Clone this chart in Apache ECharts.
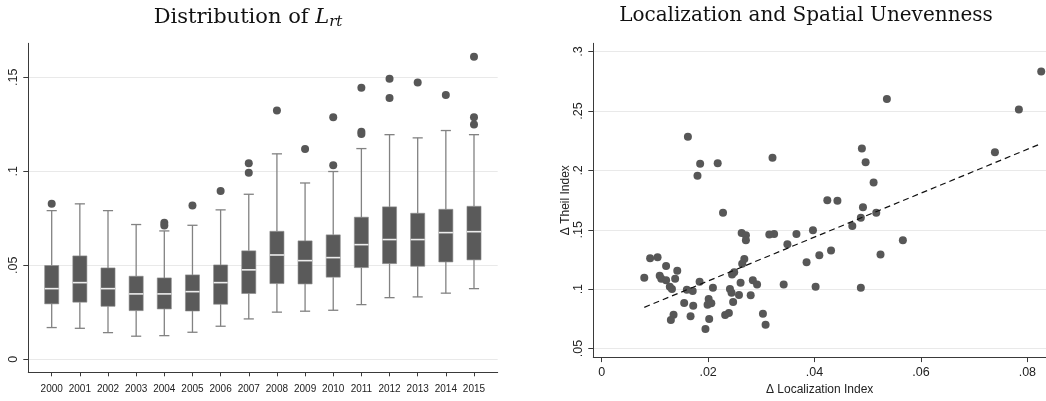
<!DOCTYPE html>
<html lang="en">
<head>
    <meta charset="UTF-8">
    <title>Lrt distribution and localization</title>
    <script type="text/javascript" src="https://cdn.jsdelivr.net/npm/echarts@6/dist/echarts.min.js"></script>
    <style type="text/css">
        html, body { margin: 0; padding: 0; background: #fff; }
        #main { width: 1046px; height: 401px; }
    </style>
</head>
<body>
    <div id="main"></div>
</body>

<script type="text/javascript">
    // left panel: box plots of L_rt by year
    var years = ['2000','2001','2002','2003','2004','2005','2006','2007','2008','2009','2010','2011','2012','2013','2014','2015'];
    var lowWhisker  = [0.0169,0.0165,0.0142,0.0123,0.0126,0.0144,0.0176,0.0215,0.0251,0.0256,0.0261,0.0291,0.0328,0.0332,0.0352,0.0376];
    var q1          = [0.0295,0.0304,0.0282,0.0259,0.0268,0.0257,0.0293,0.0350,0.0403,0.0401,0.0437,0.0488,0.0509,0.0495,0.0518,0.0529];
    var median      = [0.0376,0.0408,0.0376,0.0348,0.0348,0.0360,0.0408,0.0476,0.0555,0.0525,0.0541,0.0610,0.0637,0.0637,0.0674,0.0679];
    var q3          = [0.0499,0.0550,0.0486,0.0442,0.0433,0.0449,0.0502,0.0577,0.0681,0.0630,0.0662,0.0756,0.0811,0.0777,0.0798,0.0814];
    var highWhisker = [0.0791,0.0827,0.0791,0.0717,0.0683,0.0713,0.0795,0.0878,0.1093,0.0938,0.0999,0.1121,0.1195,0.1178,0.1217,0.1195];

    // outside values (year index, value)
    var outlierYear  = [0, 4, 4, 5, 6, 7, 7, 8, 9, 10, 10, 11, 11, 11, 12, 12, 13, 14, 15, 15, 15];
    var outlierValue = [0.0827,0.0727,0.0712,0.0818,0.0896,0.1043,0.0993,0.1323,0.1119,0.1288,0.1032,0.1445,0.1210,0.1198,0.1493,0.1390,0.1472,0.1406,0.1610,0.1288,0.1249];

    var leftTicks = [0, 0.05, 0.1, 0.15];

    // right panel: scatter of changes
    var locChange = [0.0826,0.0784,0.0739,0.0536,0.0162,0.0185,0.0180,0.0218,0.0321,0.0489,0.0496,0.0511,0.0228,0.0424,0.0443,0.0491,0.0516,0.0487,0.0471,0.0566,
                     0.0524,0.0487,0.0431,0.0409,0.0397,0.0385,0.0402,0.0366,0.0349,0.0342,0.0324,0.0315,0.0303,0.0308,0.0263,0.0271,0.0271,0.0268,0.0264,0.0261,
                     0.0284,0.0292,0.0280,0.0249,0.0245,0.0258,0.0241,0.0244,0.0247,0.0239,0.0232,0.0209,0.0201,0.0199,0.0206,0.0202,0.0195,0.0184,0.0160,0.0171,
                     0.0172,0.0155,0.0167,0.0142,0.0138,0.0121,0.0105,0.0091,0.0109,0.0112,0.0121,0.0128,0.0132,0.0080,0.0135,0.0130];
    var theilChange = [0.2832,0.2513,0.2153,0.2601,0.2284,0.2055,0.1955,0.2060,0.2106,0.2184,0.2069,0.1898,0.1644,0.1748,0.1745,0.1689,0.1644,0.1602,0.1532,0.1412,
                       0.1292,0.1012,0.1325,0.1286,0.1496,0.1227,0.1020,0.1465,0.1378,0.1040,0.1465,0.1460,0.0794,0.0701,0.1473,0.1454,0.1412,0.1253,0.1213,0.1054,
                       0.1074,0.1040,0.0948,0.1143,0.1124,0.0950,0.1001,0.0970,0.0892,0.0800,0.0783,0.1012,0.0917,0.0869,0.0881,0.0749,0.0665,0.1062,0.0995,0.0984,
                       0.0861,0.0883,0.0772,0.1154,0.1087,0.1194,0.1269,0.1261,0.1113,0.1087,0.1074,0.1020,0.1001,0.1096,0.0785,0.0741];
    // fitted line end points
    var fitX = [0.0080, 0.0826];
    var fitY = [0.0847, 0.2226];

    var rightXTicks = [0, 0.02, 0.04, 0.06, 0.08];
    var rightYTicks = [0.05, 0.1, 0.15, 0.2, 0.25, 0.3];

    // stata style labels: .05 instead of 0.05
    function stataNum(v) {
        if (Math.abs(v) < 1e-9) return '0';
        return String(+v.toFixed(3)).replace(/^0\./, '.');
    }

    var axisCol = '#3a3a3a';
    var gridCol = '#e9e9e9';
    var dotCol = '#575757';
    var sans = 'Liberation Sans';

    var boxData = years.map(function (y, i) {
        return [i, lowWhisker[i], q1[i], median[i], q3[i], highWhisker[i]];
    });
    var outlierData = outlierYear.map(function (y, i) { return [y, outlierValue[i]]; });
    var scatterData = locChange.map(function (x, i) { return [x, theilChange[i]]; });
    var fitData = fitX.map(function (x, i) { return [x, fitY[i]]; });

    function renderBox(params, api) {
        var x = api.value(0);
        var pLow = api.coord([x, api.value(1)]);
        var pQ1 = api.coord([x, api.value(2)]);
        var pMed = api.coord([x, api.value(3)]);
        var pQ3 = api.coord([x, api.value(4)]);
        var pHigh = api.coord([x, api.value(5)]);
        var boxW = api.size([0.5, 0])[0];
        var capW = api.size([0.36, 0])[0];
        var cx = pMed[0];
        var whisk = { stroke: '#828282', lineWidth: 1.3 };
        return {
            type: 'group',
            children: [
                { type: 'line', shape: { x1: cx, y1: pLow[1], x2: cx, y2: pQ1[1] }, style: whisk },
                { type: 'line', shape: { x1: cx, y1: pQ3[1], x2: cx, y2: pHigh[1] }, style: whisk },
                { type: 'line', shape: { x1: cx - capW / 2, y1: pLow[1], x2: cx + capW / 2, y2: pLow[1] }, style: whisk },
                { type: 'line', shape: { x1: cx - capW / 2, y1: pHigh[1], x2: cx + capW / 2, y2: pHigh[1] }, style: whisk },
                { type: 'rect', shape: { x: cx - boxW / 2, y: pQ3[1], width: boxW, height: pQ1[1] - pQ3[1] },
                  style: { fill: '#5a5a5a', stroke: '#8c8c8c', lineWidth: 0.6 } },
                { type: 'line', shape: { x1: cx - boxW / 2, y1: pMed[1], x2: cx + boxW / 2, y2: pMed[1] },
                  style: { stroke: '#ededed', lineWidth: 1.6 } }
            ]
        };
    }

    var chart = echarts.init(document.getElementById('main'));

    var option = {
        animation: false,
        backgroundColor: '#ffffff',
        title: [
            {
                text: 'Distribution of {i|L}{s|rt}',
                left: 243, top: 1, textAlign: 'center',
                textStyle: {
                    fontFamily: 'DejaVu Serif', fontSize: 21, fontWeight: 'normal', color: '#111',
                    rich: {
                        i: { fontFamily: 'DejaVu Serif', fontSize: 21, fontStyle: 'italic', color: '#111' },
                        s: { fontFamily: 'DejaVu Serif', fontSize: 15, fontStyle: 'italic', color: '#111', padding: [9, 0, 0, 0] }
                    }
                }
            },
            {
                text: 'Localization and Spatial Unevenness',
                left: 801, top: 1, textAlign: 'center',
                textStyle: { fontFamily: 'DejaVu Serif', fontSize: 20, fontWeight: 'normal', color: '#111' }
            }
        ],
        grid: [
            { left: 28.3, top: 43.3, width: 469.4, height: 329 },
            { left: 593.3, top: 43.3, width: 452.7, height: 315 }
        ],
        xAxis: [
            {
                gridIndex: 0, type: 'value', min: -0.831, max: 15.842,
                axisLine: { show: true, onZero: false, lineStyle: { color: axisCol, width: 1 } },
                axisTick: { show: true, length: 4, customValues: years.map(function (y, i) { return i; }),
                            lineStyle: { color: axisCol } },
                axisLabel: { customValues: years.map(function (y, i) { return i; }),
                             formatter: function (v) { return years[Math.round(v)]; },
                             fontFamily: sans, fontSize: 10, color: '#222', margin: 12 },
                splitLine: { show: false }
            },
            {
                gridIndex: 1, type: 'value', min: -0.00158, max: 0.0835,
                axisLine: { show: true, onZero: false, lineStyle: { color: axisCol, width: 1 } },
                axisTick: { show: true, length: 5, customValues: rightXTicks, lineStyle: { color: axisCol } },
                axisLabel: { customValues: rightXTicks, formatter: stataNum,
                             fontFamily: sans, fontSize: 12.5, color: '#222', margin: 9 },
                splitLine: { show: false },
                name: 'Δ Localization Index', nameLocation: 'middle', nameGap: 23,
                nameTextStyle: { fontFamily: sans, fontSize: 12, color: '#222' }
            }
        ],
        yAxis: [
            {
                gridIndex: 0, type: 'value', min: -0.0069, max: 0.1681,
                axisLine: { show: true, onZero: false, lineStyle: { color: axisCol, width: 1 } },
                axisTick: { show: true, length: 5, customValues: leftTicks, lineStyle: { color: axisCol } },
                axisLabel: { customValues: leftTicks, formatter: stataNum, rotate: 90,
                             fontFamily: sans, fontSize: 12.5, color: '#222', margin: 8 },
                splitLine: { show: true, lineStyle: { color: gridCol, width: 1 } }
            },
            {
                gridIndex: 1, type: 'value', min: 0.0428, max: 0.307,
                axisLine: { show: true, onZero: false, lineStyle: { color: axisCol, width: 1 } },
                axisTick: { show: true, length: 5, customValues: rightYTicks, lineStyle: { color: axisCol } },
                axisLabel: { customValues: rightYTicks, formatter: stataNum, rotate: 90,
                             fontFamily: sans, fontSize: 12.5, color: '#222', margin: 8 },
                splitLine: { show: true, lineStyle: { color: gridCol, width: 1 } },
                name: 'Δ Theil Index', nameLocation: 'middle', nameGap: 22,
                nameTextStyle: { fontFamily: sans, fontSize: 12, color: '#222' }
            }
        ],
        series: [
            {
                type: 'custom', xAxisIndex: 0, yAxisIndex: 0,
                renderItem: renderBox,
                encode: { x: 0, y: [1, 2, 3, 4, 5] },
                data: boxData
            },
            {
                type: 'scatter', xAxisIndex: 0, yAxisIndex: 0,
                symbolSize: 8, itemStyle: { color: dotCol, opacity: 1 },
                data: outlierData
            },
            {
                type: 'scatter', xAxisIndex: 1, yAxisIndex: 1,
                symbolSize: 8, itemStyle: { color: dotCol, opacity: 1 },
                data: scatterData
            },
            {
                type: 'line', xAxisIndex: 1, yAxisIndex: 1,
                symbol: 'none',
                lineStyle: { color: '#111', width: 1.2, type: [6, 4] },
                data: fitData
            }
        ]
    };
    chart.setOption(option);
</script>
</html>
